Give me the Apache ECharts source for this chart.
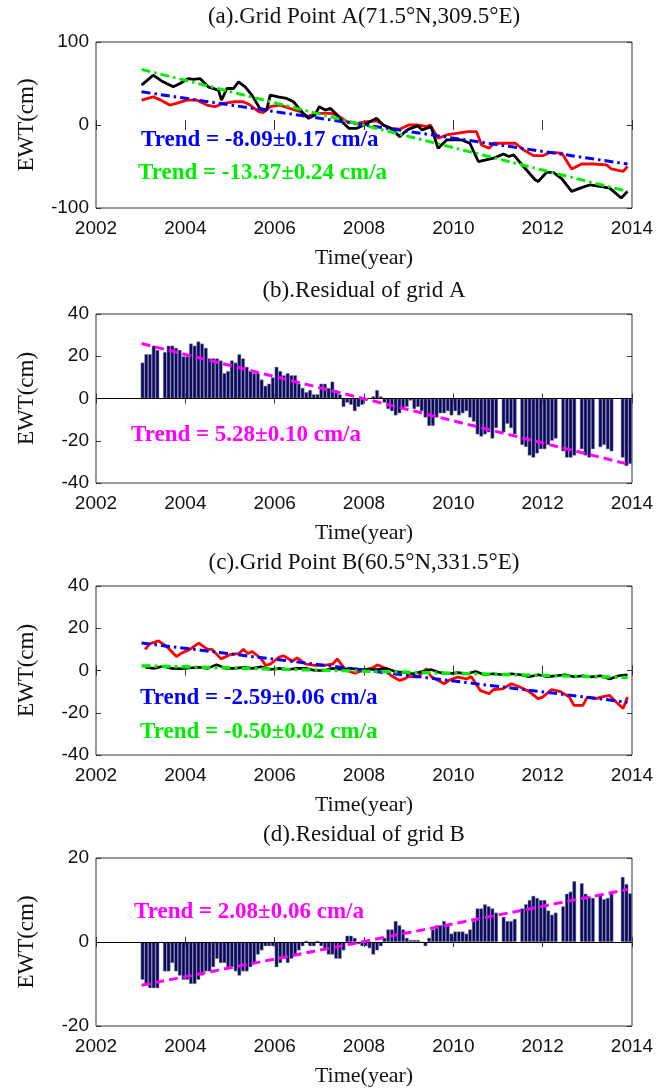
<!DOCTYPE html>
<html>
<head>
<meta charset="utf-8">
<script src="https://cdn.jsdelivr.net/npm/echarts@6/dist/echarts.min.js"></script>
<style>
html,body{margin:0;padding:0;background:#fff;}
#chart{width:670px;height:1088px;}
</style>
</head>
<body>
<div id="chart"></div>
<script>
// ---------- axis settings ----------
const xRange = [2002, 2014];
const xStep = 2;
const yRangeA = [-100, 100], yStepA = 100;
const yRangeB = [-40, 40], yStepB = 20;
const yRangeC = [-40, 40], yStepC = 20;
const yRangeD = [-20, 20], yStepD = 20;

const titles = [
  '(a).Grid Point A(71.5°N,309.5°E)',
  '(b).Residual of grid A',
  '(c).Grid Point B(60.5°N,331.5°E)',
  '(d).Residual of grid B'
];
const xName = 'Time(year)';
const yName = 'EWT(cm)';

// ---------- panel (a) ----------
const tBlackA = [2003.02,2003.28,2003.5,2003.73,2003.88,2004.07,2004.18,2004.33,2004.51,2004.74,2004.81,2004.93,2005.08,2005.19,2005.34,2005.49,2005.67,2005.82,2005.9,2006.08,2006.27,2006.42,2006.64,2006.76,2006.9,2007.0,2007.13,2007.25,2007.4,2007.54,2007.66,2007.84,2008.0,2008.28,2008.43,2008.6,2008.8,2008.9,2009.0,2009.2,2009.3,2009.5,2009.66,2009.85,2010.19,2010.37,2010.56,2010.9,2011.12,2011.24,2011.35,2011.57,2011.83,2011.9,2012.09,2012.24,2012.43,2012.65,2012.84,2013.06,2013.28,2013.5,2013.76,2013.9];
const blackA = [48,60,52,46,50,56,55,56,46,42,30,44,44,52,46,36,20,18,36,34,32,28,14,8,12,22,18,20,12,2,-4,-4,0,8,0,-4,-14,-9,-5,-1,-6,-2,-28,-18,-18,-22,-44,-40,-35,-38,-36,-50,-66,-68,-57,-57,-65,-80,-76,-72,-74,-76,-88,-80];
const tRedA = [2003.02,2003.28,2003.45,2003.65,2003.8,2004.03,2004.25,2004.48,2004.66,2004.85,2005.08,2005.3,2005.45,2005.64,2005.75,2005.9,2006.12,2006.34,2006.57,2006.72,2006.95,2007.25,2007.4,2007.62,2007.84,2008.06,2008.28,2008.5,2008.6,2008.8,2009.0,2009.2,2009.4,2009.48,2009.66,2009.85,2010.33,2010.52,2010.63,2010.8,2010.9,2011.39,2011.57,2011.8,2012.0,2012.16,2012.43,2012.65,2012.87,2013.13,2013.43,2013.54,2013.8,2013.9];
const redA = [30,34,30,24,26,30,30,24,22,26,28,28,24,16,15,22,24,20,16,10,14,14,12,4,2,4,5,-2,-4,-5,0,0,-2,0,-16,-12,-8,-8,-24,-28,-22,-22,-30,-37,-37,-33,-34,-53,-47,-47,-48,-53,-56,-50];
const trendT = [2003.02, 2013.9];
const blueTrendA = [40, -47];
const greenTrendA = [67, -80];
const trendTextA = ['Trend = -8.09±0.17 cm/a', 'Trend = -13.37±0.24 cm/a'];

// ---------- panel (b): monthly residual, Jan 2003 .. Dec 2013 ----------
const barYears = [2003,2004,2005,2006,2007,2008,2009,2010,2011,2012,2013];
const residA = [
  17,21,21,25,23,null,22,25,25,24,23,20,
  20,26,25,27,26,24,19,19,19,18,12,13,
  18,17,21,19,15,13,12,12,9,6,7,10,
  15,13,11,12,11,11,7,5,3,4,2,2,
  7,7,5,8,4,2,-4,-2,-3,-6,-4,-3,
  -1,0,1,4,1,-2,-5,-6,-8,-7,-5,-4,
  -1,-5,-4,-6,-9,-13,-13,-9,-7,-7,-6,-8,
  -6,-8,-7,-6,-9,-11,-17,-18,-17,-16,-19,-14,
  null,-16,-12,-14,-17,null,-22,-23,-27,-28,-26,-24,
  -24,-22,-20,-19,null,-25,-28,-28,-27,null,-24,-27,
  -28,-24,null,-23,-22,-24,-25,null,null,-28,-32,-31
];
const magentaTrendB = [26, -31];
const trendTextB = 'Trend = 5.28±0.10 cm/a';

// ---------- panel (c) ----------
const tRedC = [2003.1,2003.2,2003.4,2003.6,2003.8,2003.9,2004.1,2004.3,2004.5,2004.6,2004.8,2005.0,2005.2,2005.3,2005.4,2005.5,2005.7,2005.8,2005.9,2006.1,2006.2,2006.4,2006.5,2006.7,2006.9,2007.1,2007.3,2007.4,2007.6,2007.8,2008.0,2008.2,2008.3,2008.5,2008.6,2008.8,2008.9,2009.0,2009.2,2009.4,2009.5,2009.6,2009.8,2009.9,2010.1,2010.3,2010.4,2010.6,2010.8,2010.9,2011.1,2011.3,2011.5,2011.7,2011.9,2012.0,2012.2,2012.4,2012.6,2012.7,2012.9,2013.0,2013.2,2013.3,2013.5,2013.6,2013.8,2013.9];
const redC = [10,12.6,14,11,6.6,8,10,13,10,10,5.5,7.5,8,10,8,9,5.5,2.4,3,6.3,7,4.4,6,3,2.4,2.4,3,5.5,0,-1.3,0.3,1.3,2.7,0.8,-2.4,-4.7,-4,-2.8,-3.1,0.8,-2.8,-4,-6.3,-4.7,-3.1,-4,-2.8,-9.4,-11,-9,-8.7,-6.3,-7.9,-10,-13.4,-12.6,-9,-10,-12.6,-16.5,-16.5,-12.6,-13.4,-12.6,-11.8,-14,-18,-12.6];
const tBlackC = [2003.1,2003.3,2003.5,2003.7,2003.9,2004.1,2004.3,2004.5,2004.7,2004.9,2005.1,2005.3,2005.5,2005.7,2005.9,2006.1,2006.3,2006.5,2006.7,2006.9,2007.1,2007.3,2007.5,2007.7,2007.9,2008.1,2008.3,2008.5,2008.7,2008.9,2009.1,2009.3,2009.5,2009.7,2009.9,2010.1,2010.3,2010.5,2010.7,2010.9,2011.1,2011.3,2011.5,2011.7,2011.9,2012.1,2012.3,2012.5,2012.7,2012.9,2013.1,2013.3,2013.5,2013.7,2013.9];
const blackC = [1.5,1,2,1,0.8,1.2,1.5,1,2.8,1,1,1.5,1,1.8,0.5,1,0.5,1,1,0,0,1,0.5,1,0.5,0.5,0.5,1,-0.5,-1,-1.5,-0.5,0.5,-1,-1.5,-1,-1.5,-0.5,-2,-1.5,-2,-1.5,-2,-3,-2,-3,-2.5,-2,-3,-2.5,-3,-2.5,-4,-2.5,-2];
const blueTrendC = [13, -15];
const greenTrendC = [2.2, -3.3];
const trendTextC = ['Trend = -2.59±0.06 cm/a', 'Trend = -0.50±0.02 cm/a'];

// ---------- panel (d) ----------
const residB = [
  -9,-10,-11,-11,-11,null,-7,-7,-5,-7,-8,-9,
  -9,-10,-10,-9,-8,-7,-7,-6,-4,-5,-5,-6,
  -6,-7,-8,-7,-7,-6,-5,-3,-2,-1,-1,-1,
  -6,-5,-4,-5,-4,-3,-2,-1,0.3,-1,-1,0.3,
  -1,-2,-3,-3,-4,-4,-2,1.5,1.5,1,-0.5,-1,
  -1,-1.5,-3,-2,-1,1,3,3,5,4,3,1,
  0.5,0.5,0.5,0,-1,1,3,4,4,5,4,2,
  2.5,2.5,2.5,2,3,5,8,8,9,8.5,8,7,
  null,6,5,5,5.5,null,8,9,10,11,10.5,10,
  10,7.5,6.5,7,null,8.5,11.5,12,14.5,null,14,11.5,
  10.8,10.5,null,11.3,10.2,10.5,11.5,null,null,15.5,13.8,11.6
];
const magentaTrendD = [-10.3, 12.5];
const trendTextD = 'Trend = 2.08±0.06 cm/a';

// ---------- helpers ----------
const zip = (t, v) => t.map((x, i) => [x, v[i]]);
const monthly = vals => vals.map((v, i) => [barYears[0] + (i + 0.5) / 12, v]);

const SANS = '"Liberation Sans", Arial, sans-serif';
const SERIF = '"Liberation Serif", "Times New Roman", serif';
const AXC = '#333';

const L = 96, W = 536;
const panels = [
  { top: 42, height: 166, yr: yRangeA, ys: yStepA },
  { top: 314, height: 169, yr: yRangeB, ys: yStepB },
  { top: 586, height: 169, yr: yRangeC, ys: yStepC },
  { top: 858, height: 169, yr: yRangeD, ys: yStepD }
];

const grid = [], xAxis = [], yAxis = [];
panels.forEach((p, i) => {
  grid.push({ left: L, width: W, top: p.top, height: p.height, show: true, borderColor: AXC, borderWidth: 1, backgroundColor: 'transparent' });
  xAxis.push({
    type: 'value', gridIndex: i, min: xRange[0], max: xRange[1], interval: xStep, position: 'bottom',
    axisLine: { show: false }, splitLine: { show: false },
    axisTick: { show: true, inside: true, length: 5, lineStyle: { color: AXC } },
    axisLabel: { show: true, fontFamily: SANS, fontSize: 19, color: '#111', margin: 11, formatter: v => String(v) },
    name: xName, nameLocation: 'middle', nameGap: 39,
    nameTextStyle: { fontFamily: SERIF, fontSize: 22, color: '#111' }
  });
  xAxis.push({
    type: 'value', gridIndex: i, min: xRange[0], max: xRange[1], interval: xStep, position: 'top',
    axisLine: { show: false }, splitLine: { show: false },
    axisTick: { show: true, inside: true, length: 5, lineStyle: { color: AXC } },
    axisLabel: { show: false }
  });
  yAxis.push({
    type: 'value', gridIndex: i, min: p.yr[0], max: p.yr[1], interval: p.ys, position: 'left',
    axisLine: { show: false }, splitLine: { show: false },
    axisTick: { show: true, inside: true, length: 5, lineStyle: { color: AXC } },
    axisLabel: { show: true, fontFamily: SANS, fontSize: 19, color: '#111', margin: 7, formatter: v => String(v) },
    name: yName, nameLocation: 'middle', nameGap: 58, nameRotate: 90,
    nameTextStyle: { fontFamily: SERIF, fontSize: 23, color: '#111' }
  });
  yAxis.push({
    type: 'value', gridIndex: i, min: p.yr[0], max: p.yr[1], interval: p.ys, position: 'right',
    axisLine: { show: false }, splitLine: { show: false },
    axisTick: { show: true, inside: true, length: 5, lineStyle: { color: AXC } },
    axisLabel: { show: false }
  });
});

const dashDot = [9, 4, 2.5, 4];
function lineS(panel, data, color, width, type, z) {
  return {
    type: 'line', xAxisIndex: panel * 2, yAxisIndex: panel * 2, data: data,
    symbol: 'none', smooth: false, silent: true, z: z || 2,
    lineStyle: { color: color, width: width, type: type || 'solid' }
  };
}
function barS(panel, data) {
  return {
    type: 'bar', xAxisIndex: panel * 2, yAxisIndex: panel * 2, data: data,
    barWidth: 3.75, silent: true, z: 1,
    itemStyle: { color: '#0a0a62', borderColor: '#9a9aaa', borderWidth: 0.5 },
    markLine: {
      silent: true, symbol: 'none', label: { show: false }, animation: false,
      lineStyle: { color: '#000', width: 1.2, type: 'solid' },
      data: [{ yAxis: 0 }]
    }
  };
}

const series = [
  lineS(0, zip(tRedA, redA), '#ff0000', 2.8),
  lineS(0, zip(tBlackA, blackA), '#000000', 2.8, 'solid', 3),
  lineS(0, zip(trendT, blueTrendA), '#0000ff', 3, dashDot, 4),
  lineS(0, zip(trendT, greenTrendA), '#00ee00', 3, dashDot, 5),
  barS(1, monthly(residA)),
  lineS(1, zip(trendT, magentaTrendB), '#ff00ff', 3, [9, 5], 5),
  lineS(2, zip(tRedC, redC), '#ff0000', 2.8),
  lineS(2, zip(tBlackC, blackC), '#000000', 2.6, 'solid', 3),
  lineS(2, zip(trendT, blueTrendC), '#0000ff', 3, dashDot, 4),
  lineS(2, zip(trendT, greenTrendC), '#00ee00', 3.4, [9, 4, 3, 4], 5),
  barS(3, monthly(residB)),
  lineS(3, zip(trendT, magentaTrendD), '#ff00ff', 3, [9, 5], 5)
];

const titleYs = [17, 291, 563, 835];
const graphic = titles.map((t, i) => ({
  type: 'text', x: L + W / 2, y: titleYs[i], silent: true,
  style: { text: t, font: '23px ' + SERIF, fill: '#111', align: 'center', verticalAlign: 'middle' }
}));
const trendLabels = [
  { text: trendTextA[0], x: 141, y: 140, fill: '#0000ff' },
  { text: trendTextA[1], x: 138, y: 173, fill: '#00ee00' },
  { text: trendTextB, x: 131, y: 435, fill: '#ff00ff' },
  { text: trendTextC[0], x: 140, y: 698, fill: '#0000ff' },
  { text: trendTextC[1], x: 140, y: 732, fill: '#00ee00' },
  { text: trendTextD, x: 134, y: 912, fill: '#ff00ff' }
];
trendLabels.forEach(l => graphic.push({
  type: 'text', x: l.x, y: l.y, silent: true, z: 100,
  style: { text: l.text, font: 'bold 23px ' + SERIF, fill: l.fill, align: 'left', verticalAlign: 'middle' }
}));

const chart = echarts.init(document.getElementById('chart'), null, { renderer: 'canvas' });
chart.setOption({
  animation: false,
  backgroundColor: '#ffffff',
  grid: grid, xAxis: xAxis, yAxis: yAxis, series: series, graphic: graphic
});
</script>
</body>
</html>
